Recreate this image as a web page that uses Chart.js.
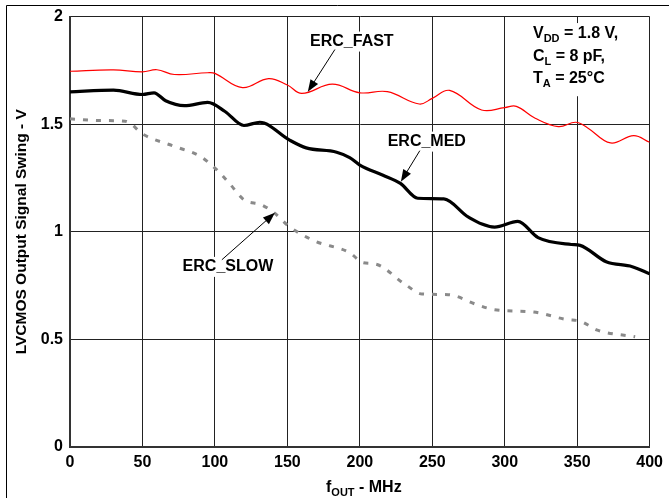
<!DOCTYPE html>
<html>
<head>
<meta charset="utf-8">
<script src="https://cdn.jsdelivr.net/npm/chart.js@4"></script>
<style>
  html, body { margin: 0; padding: 0; background: #fff; }
  #wrap { width: 669px; height: 498px; position: relative; }
</style>
</head>
<body>
<div id="wrap"><canvas id="myChart"></canvas></div>
<script>
// данные (f в МГц, размах в В)
const fastX = [0, 30, 50, 60, 72, 95, 100, 119, 137, 150, 160, 181, 200, 219, 241, 250, 262, 284, 300, 308, 321, 337, 349, 357, 373, 389, 400];
const fastY = [1.746, 1.752, 1.743, 1.753, 1.731, 1.739, 1.736, 1.670, 1.712, 1.682, 1.643, 1.686, 1.646, 1.651, 1.594, 1.620, 1.657, 1.566, 1.577, 1.583, 1.528, 1.489, 1.509, 1.484, 1.413, 1.447, 1.416];

const medX = [0, 30, 50, 58, 66, 79, 95, 107, 120, 131, 151, 163, 184, 193, 200, 216, 228, 240, 258, 275, 293, 309, 323, 346, 352, 370, 388, 400];
const medY = [1.650, 1.658, 1.638, 1.646, 1.609, 1.586, 1.601, 1.559, 1.494, 1.509, 1.428, 1.390, 1.370, 1.345, 1.310, 1.263, 1.225, 1.156, 1.153, 1.068, 1.022, 1.048, 0.973, 0.941, 0.937, 0.861, 0.838, 0.805];

const slowX = [0, 20, 38, 51, 72, 90, 101, 110, 120, 132, 141, 151, 169, 193, 202, 211, 231, 243, 261, 281, 293, 320, 343, 352, 364, 390];
const slowY = [1.525, 1.517, 1.514, 1.451, 1.397, 1.350, 1.290, 1.225, 1.149, 1.126, 1.088, 1.026, 0.957, 0.903, 0.857, 0.850, 0.757, 0.711, 0.708, 0.661, 0.638, 0.627, 0.592, 0.585, 0.543, 0.512];

const xTicks = [0, 50, 100, 150, 200, 250, 300, 350, 400];
const yTicks = [0, 0.5, 1, 1.5, 2];

const FONT = 'Liberation Sans, Arial, sans-serif';

function pts(xs, ys) {
    return xs.map((x, i) => ({ x: x, y: ys[i] }));
}

// подписи со стрелками, в координатах данных
const notes = [
    { text: 'ERC_FAST', at: [194.5, 1.884], from: [182.8, 1.847], to: [164.1, 1.651] },
    { text: 'ERC_MED', at: [246.2, 1.419], from: [241.4, 1.377], to: [228.3, 1.233] },
    { text: 'ERC_SLOW', at: [109, 0.837], from: [104.8, 0.870], to: [141.4, 1.088] }
];

const condLines = [
    [['V', 0], ['DD', 1], [' = 1.8 V,', 0]],
    [['C', 0], ['L', 1], [' = 8 pF,', 0]],
    [['T', 0], ['A', 1], [' = 25°C', 0]]
];

function subWidth(ctx, parts) {
    let w = 0;
    parts.forEach(p => {
        ctx.font = p[1] ? 'bold 11px ' + FONT : 'bold 16px ' + FONT;
        w += ctx.measureText(p[0]).width;
    });
    return w;
}

function drawSub(ctx, parts, x, y) {
    ctx.textAlign = 'left';
    ctx.textBaseline = 'alphabetic';
    parts.forEach(p => {
        ctx.font = p[1] ? 'bold 11px ' + FONT : 'bold 16px ' + FONT;
        ctx.fillText(p[0], x, p[1] ? y + 4 : y);
        x += ctx.measureText(p[0]).width;
    });
}

function arrow(ctx, x1, y1, x2, y2) {
    const a = Math.atan2(y2 - y1, x2 - x1);
    const len = 12, hw = 4.5;
    ctx.strokeStyle = '#000';
    ctx.lineWidth = 1;
    ctx.beginPath();
    ctx.moveTo(x1, y1);
    ctx.lineTo(x2 - Math.cos(a) * len * 0.8, y2 - Math.sin(a) * len * 0.8);
    ctx.stroke();
    ctx.fillStyle = '#000';
    ctx.beginPath();
    ctx.moveTo(x2, y2);
    ctx.lineTo(x2 - Math.cos(a) * len - Math.sin(a) * hw, y2 - Math.sin(a) * len + Math.cos(a) * hw);
    ctx.lineTo(x2 - Math.cos(a) * len + Math.sin(a) * hw, y2 - Math.sin(a) * len - Math.cos(a) * hw);
    ctx.closePath();
    ctx.fill();
}

const extras = {
    id: 'extras',
    beforeDatasetsDraw(chart) {
        const ctx = chart.ctx;
        const xs = chart.scales.x, ys = chart.scales.y;
        ctx.save();
        ctx.fillStyle = '#fff';
        // белый фон под подписями
        ctx.font = 'bold 16px ' + FONT;
        notes.forEach(n => {
            const w = ctx.measureText(n.text).width;
            const cx = xs.getPixelForValue(n.at[0]), cy = ys.getPixelForValue(n.at[1]);
            ctx.fillRect(cx - w / 2 - 3, cy - 10, w + 6, 20);
        });
        // белый фон под условиями
        const bx = xs.getPixelForValue(312), bx2 = xs.getPixelForValue(392);
        const by = ys.getPixelForValue(1.97), by2 = ys.getPixelForValue(1.63);
        ctx.fillRect(bx, by, bx2 - bx, by2 - by);
        ctx.restore();
    },
    afterDatasetsDraw(chart) {
        const ctx = chart.ctx;
        const xs = chart.scales.x, ys = chart.scales.y;
        const area = chart.chartArea;
        ctx.save();
        ctx.fillStyle = '#000';

        notes.forEach(n => {
            ctx.font = 'bold 16px ' + FONT;
            ctx.textAlign = 'center';
            ctx.textBaseline = 'middle';
            ctx.fillText(n.text, xs.getPixelForValue(n.at[0]), ys.getPixelForValue(n.at[1]));
            arrow(ctx, xs.getPixelForValue(n.from[0]), ys.getPixelForValue(n.from[1]),
                xs.getPixelForValue(n.to[0]), ys.getPixelForValue(n.to[1]));
        });

        ctx.fillStyle = '#000';
        const cx0 = xs.getPixelForValue(319.5);
        const condY = [1.90, 1.795, 1.69];
        condLines.forEach((l, i) => drawSub(ctx, l, cx0, ys.getPixelForValue(condY[i])));

        // подпись оси X
        const xt = [['f', 0], ['OUT', 1], [' - MHz', 0]];
        const w = subWidth(ctx, xt);
        drawSub(ctx, xt, (area.left + area.right) / 2 - w / 2 + 4, 492);

        // подпись оси Y
        ctx.translate(22, (area.top + area.bottom) / 2);
        ctx.rotate(-Math.PI / 2);
        ctx.font = 'bold 15.5px ' + FONT;
        ctx.textAlign = 'center';
        ctx.textBaseline = 'middle';
        ctx.fillText('LVCMOS Output Signal Swing - V', 0, 0);
        ctx.restore();

        // рамка рисунка
        ctx.save();
        ctx.strokeStyle = '#000';
        ctx.lineWidth = 1;
        ctx.beginPath();
        ctx.moveTo(6.5, 498);
        ctx.lineTo(6.5, 5.5);
        ctx.lineTo(669, 5.5);
        ctx.stroke();
        ctx.restore();
    }
};

let ctx = document.getElementById('myChart').getContext('2d');
let chart = new Chart(ctx, {
    type: 'line',
    data: {
        datasets: [
            {
                label: 'ERC_FAST',
                data: pts(fastX, fastY),
                borderColor: '#ff0000',
                borderWidth: 1.2,
                pointRadius: 0,
                tension: 0.4
            },
            {
                label: 'ERC_MED',
                data: pts(medX, medY),
                borderColor: '#000',
                borderWidth: 3.2,
                pointRadius: 0,
                cubicInterpolationMode: 'monotone'
            },
            {
                label: 'ERC_SLOW',
                data: pts(slowX, slowY),
                borderColor: '#8a8a8a',
                borderWidth: 3,
                borderDash: [5, 8],
                pointRadius: 0,
                cubicInterpolationMode: 'monotone'
            }
        ]
    },
    options: {
        responsive: true,
        maintainAspectRatio: false,
        animation: false,
        devicePixelRatio: 1,
        layout: { padding: { top: 15, right: 19, left: 0, bottom: 0 } },
        plugins: {
            legend: { display: false },
            tooltip: { enabled: false }
        },
        scales: {
            x: {
                type: 'linear',
                min: 0,
                max: 400,
                afterBuildTicks: s => { s.ticks = xTicks.map(v => ({ value: v })); },
                afterFit: s => { s.height = 51; },
                ticks: { color: '#000', font: { family: FONT, size: 16, weight: 'bold' }, padding: 6, maxRotation: 0 },
                grid: { color: '#222', lineWidth: 1, drawTicks: false },
                border: { color: '#333', width: 2 }
            },
            y: {
                type: 'linear',
                min: 0,
                max: 2,
                afterBuildTicks: s => { s.ticks = yTicks.map(v => ({ value: v })); },
                afterFit: s => { s.width = 70; },
                ticks: {
                    color: '#000',
                    font: { family: FONT, size: 16, weight: 'bold' },
                    padding: 7,
                    callback: v => String(v)
                },
                grid: { color: '#222', lineWidth: 1, drawTicks: false },
                border: { color: '#333', width: 2 }
            }
        }
    },
    plugins: [extras]
});
</script>
</body>
</html>
